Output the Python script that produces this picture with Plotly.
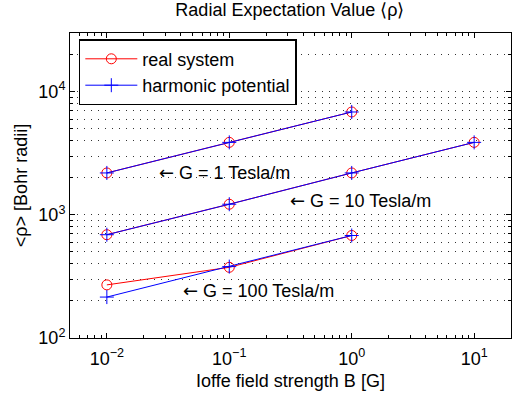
import math
import plotly.graph_objects as go

# real system values for each gradient G
B_G1 = [0.01, 0.1, 1]
B_G10 = [0.01, 0.1, 1, 10]
B_G100 = [0.01, 0.1, 1]
real_G1 = [2190, 3880, 6850]
real_G10 = [690, 1220, 2190, 3880]
real_G100 = [270, 375, 680]
# harmonic potential values
harm_G1 = [2190, 3880, 6850]
harm_G10 = [690, 1220, 2190, 3880]
harm_G100 = [215, 380, 680]

labels = ["G = 1 Tesla/m", "G = 10 Tesla/m", "G = 100 Tesla/m"]
label_x = [0.0255, 0.30, 0.040]
label_y = [2220, 1310, 243]

xt = [0.01, 0.1, 1, 10]
xtt = ["10<sup>−2</sup>", "10<sup>−1</sup>", "10<sup>0</sup>", "10<sup>1</sup>"]
yt = [100, 1000, 10000]
ytt = ["10<sup>2</sup>", "10<sup>3</sup>", "10<sup>4</sup>"]

font = "Liberation Sans, Arial, sans-serif"
fig = go.Figure()

groups = [(B_G1, real_G1, harm_G1), (B_G10, real_G10, harm_G10), (B_G100, real_G100, harm_G100)]
for i, (bx, r, h) in enumerate(groups):
    fig.add_trace(go.Scatter(x=bx, y=r, mode="lines+markers", name="real system",
                             showlegend=(i == 0), legendgroup="real",
                             line=dict(color="red", width=1),
                             marker=dict(symbol="circle-open", size=10, color="red",
                                         line=dict(width=1, color="red"))))
for i, (bx, r, h) in enumerate(groups):
    fig.add_trace(go.Scatter(x=bx, y=h, mode="lines+markers", name="harmonic potential",
                             showlegend=(i == 0), legendgroup="harm",
                             line=dict(color="blue", width=1),
                             marker=dict(symbol="cross-thin-open", size=10, color="blue",
                                         line=dict(width=1, color="blue"))))

for t, x, y in zip(labels, label_x, label_y):
    fig.add_annotation(x=math.log10(x), y=math.log10(y), xref="x", yref="y",
                       text="<span style=\"font-family:DejaVu Sans\">←</span> " + t,
                       showarrow=False, xanchor="left", yanchor="middle",
                       font=dict(size=18, color="black", family=font))

fig.update_layout(
    width=514, height=399,
    margin=dict(l=70, r=3, t=33, b=61),
    paper_bgcolor="white", plot_bgcolor="white",
    font=dict(family=font, size=18, color="black"),
    title=dict(text="Radial Expectation Value ⟨ρ⟩", x=0.564, xanchor="center",
               y=0.975, yanchor="middle", font=dict(size=18)),
    showlegend=True,
    legend=dict(x=0.02, y=0.98, xanchor="left", yanchor="top",
                bgcolor="white", bordercolor="black", borderwidth=1.5,
                font=dict(size=18), tracegroupgap=0, itemwidth=52),
    xaxis=dict(type="log", range=[-2.301, 1.301], tickvals=xt, ticktext=xtt,
               ticks="inside", ticklen=5, tickcolor="black", ticklabelstandoff=4,
               showline=True, linecolor="black", linewidth=1, mirror="ticks",
               showgrid=False, zeroline=False,
               title=dict(text="Ioffe field strength B [G]", standoff=6, font=dict(size=18)),
               minor=dict(dtick="D1", ticks="inside", ticklen=3, tickcolor="black", showgrid=False)),
    yaxis=dict(type="log", range=[2, 4.477], tickvals=yt, ticktext=ytt,
               ticks="inside", ticklen=5, tickcolor="black",
               showline=True, linecolor="black", linewidth=1, mirror="ticks",
               showgrid=True, gridcolor="#333", griddash="1px,6px", gridwidth=1,
               zeroline=False,
               title=dict(text="&lt;ρ&gt; [Bohr radii]", standoff=6, font=dict(size=18)),
               minor=dict(dtick="D1", ticks="inside", ticklen=3, tickcolor="black",
                          showgrid=True, gridcolor="#333", griddash="1px,6px", gridwidth=1)),
)

fig.write_html("out.html")
